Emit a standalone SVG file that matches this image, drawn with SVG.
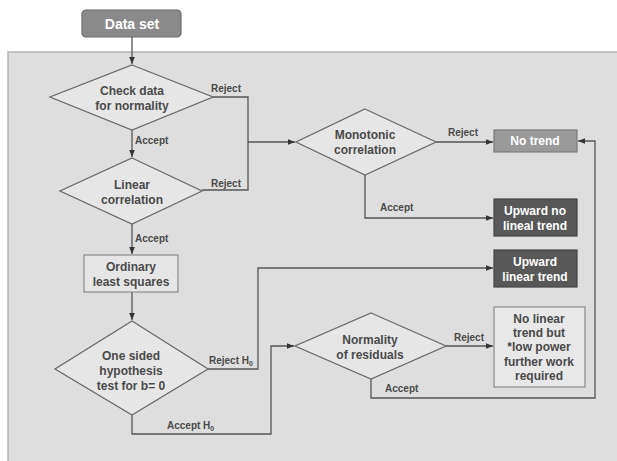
<svg xmlns="http://www.w3.org/2000/svg" width="617" height="461" viewBox="0 0 617 461">
<style>
.t{font-family:"Liberation Sans",Arial,sans-serif;font-weight:bold;text-anchor:middle}
.n{font-size:12px;fill:#4a4a4a}
.w{font-size:12px;fill:#ffffff}
.l{font-size:10px;fill:#4a4a4a;font-family:"Liberation Sans",Arial,sans-serif;font-weight:bold}
.d{fill:#e6e6e6;stroke:#6a6a6a;stroke-width:1.3}
.c{fill:none;stroke:#555;stroke-width:1.3;marker-end:url(#a)}
.c0{fill:none;stroke:#555;stroke-width:1.3}
</style>
<defs>
<marker id="a" viewBox="0 0 10 10" refX="10" refY="5" markerWidth="7" markerHeight="7" markerUnits="userSpaceOnUse" orient="auto">
<path d="M0,1 L10,5 L0,9 z" fill="#333"/>
</marker>
</defs>
<rect width="617" height="461" fill="#ffffff"/>
<rect id="panel" x="8" y="52" width="620" height="420" fill="#dedede" stroke="#b4b4b4" stroke-width="1.5"/>

<g id="connectors">
<path class="c" d="M132,37 V64"/>
<path class="c" d="M132,130 V157"/>
<path class="c0" d="M213,97 H248 V190 H202"/>
<path class="c" d="M248,142 H295"/>
<path class="c" d="M132,224 V254"/>
<path class="c" d="M132,292 V320"/>
<path class="c" d="M436,142 H493"/>
<path class="c" d="M365,175 V218 H493"/>
<path class="c" d="M208,369 H258 V268 H493"/>
<path class="c" d="M132,415 V434 H271 V346 H294"/>
<path class="c" d="M446,346 H493"/>
<path class="c" d="M371,379 V398 H595 V141 H578"/>
<text class="l" x="211" y="92">Reject</text>
<text class="l" x="211" y="187">Reject</text>
<text class="l" x="135" y="144">Accept</text>
<text class="l" x="135" y="242">Accept</text>
<text class="l" x="448" y="136">Reject</text>
<text class="l" x="380" y="211">Accept</text>
<text class="l" x="209" y="364">Reject H<tspan font-size="7" dy="2">0</tspan></text>
<text class="l" x="167" y="429">Accept H<tspan font-size="7" dy="2">0</tspan></text>
<text class="l" x="454" y="341">Reject</text>
<text class="l" x="385" y="392">Accept</text>
</g>

<g id="data-set">
<rect x="82" y="10" width="99" height="27" rx="4" fill="#8a8a8a" stroke="#6a6a6a" stroke-width="1.2"/>
<text class="t" x="132" y="29" font-size="14" fill="#ffffff">Data set</text>
</g>

<g id="check-normality">
<polygon class="d" points="132,65 213,97 132,130 50,97"/>
<text class="t n" x="132" y="95">Check data</text>
<text class="t n" x="132" y="110">for normality</text>
</g>

<g id="linear-correlation">
<polygon class="d" points="132,158 202,191 132,224 60,191"/>
<text class="t n" x="132" y="189">Linear</text>
<text class="t n" x="132" y="204">correlation</text>
</g>

<g id="ordinary-least-squares">
<rect x="84" y="255" width="94" height="37" fill="#e6e6e6" stroke="#8a8a8a" stroke-width="1.2"/>
<text class="t n" x="131" y="271">Ordinary</text>
<text class="t n" x="131" y="286">least squares</text>
</g>

<g id="hypothesis-test">
<polygon class="d" points="132,321 208,369 132,415 55,369"/>
<text class="t n" x="131" y="360">One sided</text>
<text class="t n" x="131" y="375">hypothesis</text>
<text class="t n" x="131" y="390">test for b= 0</text>
</g>

<g id="monotonic-correlation">
<polygon class="d" points="365,109 436,142 365,175 296,142"/>
<text class="t n" x="365" y="139">Monotonic</text>
<text class="t n" x="365" y="154">correlation</text>
</g>

<g id="normality-residuals">
<polygon class="d" points="371,313 446,346 371,379 295,346"/>
<text class="t n" x="370" y="344">Normality</text>
<text class="t n" x="370" y="359">of residuals</text>
</g>

<g id="no-trend">
<rect x="494" y="130" width="83" height="22" fill="#9a9a9a" stroke="#7a7a7a" stroke-width="1.2"/>
<text class="t w" x="535" y="145">No trend</text>
</g>

<g id="upward-no-lineal">
<rect x="494" y="199" width="83" height="37" fill="#585858" stroke="#444" stroke-width="1.2"/>
<text class="t w" x="535" y="215">Upward no</text>
<text class="t w" x="535" y="230">lineal trend</text>
</g>

<g id="upward-linear">
<rect x="494" y="250" width="83" height="37" fill="#585858" stroke="#444" stroke-width="1.2"/>
<text class="t w" x="535" y="266">Upward</text>
<text class="t w" x="535" y="281">linear trend</text>
</g>

<g id="no-linear-low-power">
<rect x="494" y="307" width="91" height="80" fill="#e8e8e8" stroke="#8a8a8a" stroke-width="1.2"/>
<text class="t n" x="539" y="323">No linear</text>
<text class="t n" x="539" y="337">trend but</text>
<text class="t n" x="539" y="351">*low power</text>
<text class="t n" x="539" y="366">further work</text>
<text class="t n" x="539" y="380">required</text>
</g>
</svg>
